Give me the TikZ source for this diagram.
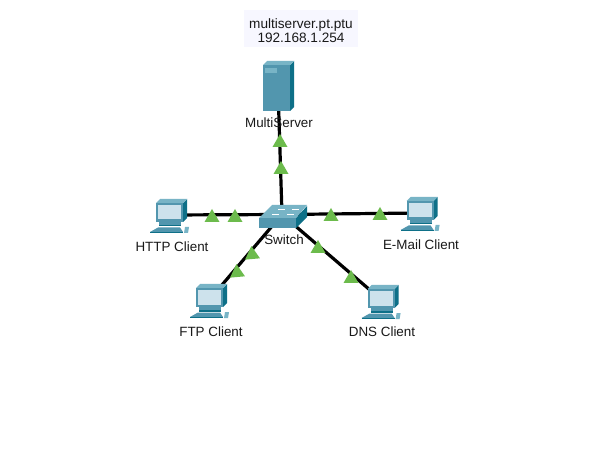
\documentclass[tikz,border=0pt]{standalone}
\usepackage{fontspec}
\setmainfont{Liberation Sans}
\definecolor{tealfront}{RGB}{82,150,174}
\definecolor{tealside}{RGB}{14,112,136}
\definecolor{tealtop}{RGB}{120,180,198}
\definecolor{screen}{RGB}{205,226,236}
\definecolor{flag}{RGB}{108,187,76}
\definecolor{notebg}{RGB}{247,247,255}
\tikzset{
  x=1pt,y=-1pt,
  anchorpt/.style={inner sep=0pt,minimum size=0pt,outer sep=0pt},
  link/.style={line width=3.2pt,black},
  lbl/.style={font=\fontsize{13.4}{15}\selectfont,text=black!90,inner sep=0pt},
  pics/pcicon/.style={code={
    \fill[tealside] (13,-11) -- (17,-15) -- (17,4) -- (13,8) -- cycle;
    \fill[tealtop] (-14,-11) -- (-10,-15) -- (17,-15) -- (13,-11) -- cycle;
    \fill[tealfront] (-14,-11) rectangle (13,8);
    \fill[screen] (-12,-9) rectangle (11,5.5);
    \fill[tealfront] (-11,8) rectangle (11,11);
    \fill[tealside] (-11,11) rectangle (11,12.5);
    \fill[tealfront] (-12,13.5) -- (10,13.5) -- (13,18) -- (-20,18) -- cycle;
    \fill[tealside] (-20,18) rectangle (13,19);
    \fill[tealtop] (15,13) -- (19,13) -- (18,19) -- (14,19) -- cycle;
  }},
  pics/servericon/.style={code={
    \fill[tealside] (12,-23) -- (16,-27) -- (16,19) -- (12,23) -- cycle;
    \fill[tealtop] (-15,-23) -- (-11,-27) -- (16,-27) -- (12,-23) -- cycle;
    \fill[tealfront] (-15,-23) rectangle (12,23);
    \fill[tealtop] (-13,-20) rectangle (-1,-15);
  }},
  pics/switchicon/.style={code={
    \fill[tealside] (14,4) -- (25,-8) -- (25,3) -- (14,14) -- cycle;
    \fill[tealfront] (-23,4) rectangle (14,14);
    \fill[tealtop] (-23,4) -- (-10,-9) -- (25,-9) -- (14,4) -- cycle;
    \draw[white,line width=.6pt] (-10,0) -- (-3,0) (-4,-5) -- (3,-5) (5,0) -- (12,0) (10,-5) -- (17,-5);
  }},
  pics/flagicon/.style={code={
    \fill[flag] (-7.5,6) -- (0,-7) -- (7.5,6) -- cycle;
  }}
}
\begin{document}
\begin{tikzpicture}
\useasboundingbox[fill=white] (0,0) rectangle (592,457);
\node[anchorpt] (sw) at (282,214.5) {};
\node[anchorpt] (srv) at (278,88) {};
\node[anchorpt] (http) at (170,215) {};
\node[anchorpt] (ftp) at (210,299) {};
\node[anchorpt] (mail) at (420.6,213) {};
\node[anchorpt] (dns) at (381.6,300) {};
\draw[link] (srv) -- (sw);
\draw[link] (http) -- (sw);
\draw[link] (mail) -- (sw);
\draw[link] (ftp) -- (sw);
\draw[link] (dns) -- (sw);
\pic at (srv) {servericon};
\pic at (282,214) {switchicon};
\pic at (170,214) {pcicon};
\pic at (ftp) {pcicon};
\pic at (420.6,212) {pcicon};
\pic at (dns) {pcicon};
\pic at (280,141) {flagicon};
\pic at (281,168) {flagicon};
\pic at (212,216) {flagicon};
\pic at (235,216) {flagicon};
\pic at (331,215) {flagicon};
\pic at (380,214) {flagicon};
\pic[rotate=5] at (237,271) {flagicon};
\pic[rotate=5] at (252,253) {flagicon};
\pic at (318,247) {flagicon};
\pic at (351,277) {flagicon};
\node[fill=notebg,minimum width=114pt,minimum height=37pt,inner sep=0pt,align=center,font=\fontsize{13.6}{14}\selectfont,text=black!90] (note) at (301,28.5) {\rule{0pt}{14pt}multiserver.pt.ptu\\192.168.1.254};
\node[lbl] (lsrv) at (279,123) {MultiServer};
\node[lbl] (lhttp) at (172,247) {HTTP Client};
\node[lbl] (lsw) at (284,240) {Switch};
\node[lbl] (lmail) at (421,245) {E-Mail Client};
\node[lbl] (lftp) at (211,332) {FTP Client};
\node[lbl] (ldns) at (382,332) {DNS Client};
\end{tikzpicture}
\end{document}
